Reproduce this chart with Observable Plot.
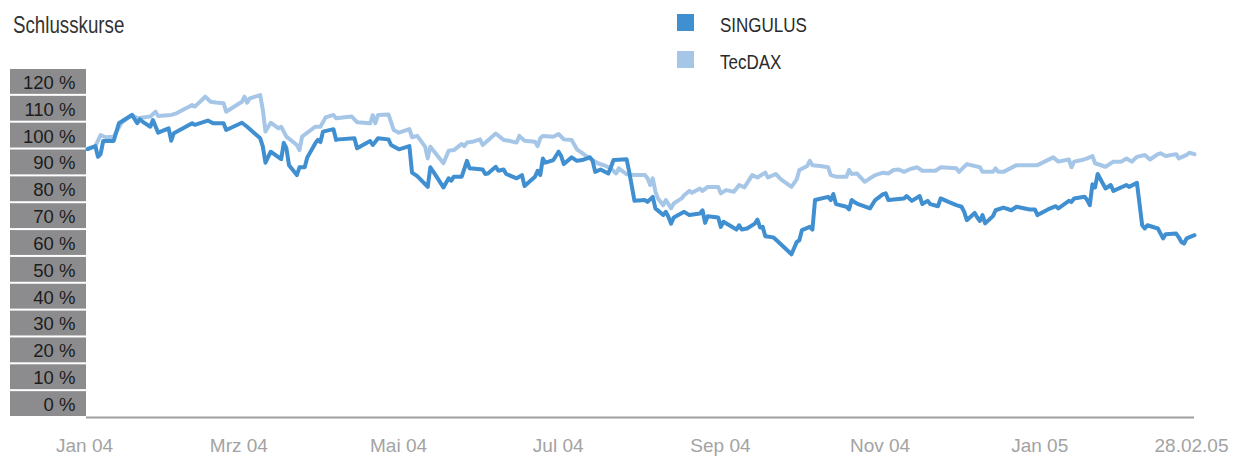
<!DOCTYPE html>
<html><head><meta charset="utf-8">
<script src="https://cdn.jsdelivr.net/npm/d3@7"></script>
<script src="https://cdn.jsdelivr.net/npm/@observablehq/plot@0.6"></script>
<style>
body{margin:0;background:#fff;}
#wrap{position:relative;width:1244px;height:460px;font-family:"Liberation Sans",Arial,sans-serif;}
.t{position:absolute;white-space:nowrap;transform-origin:0 0;line-height:1;}
.sq{position:absolute;}
#wrap svg{position:absolute;left:0;top:0;}
</style></head><body><div id="wrap"></div>
<script>
const title = "Schlusskurse";
const seriesNames = ["SINGULUS", "TecDAX"];
const seriesColors = ["#3f8fd1", "#a6c6e8"];

const singulusDates = ["2004-01-02","2004-01-05","2004-01-06","2004-01-07","2004-01-08","2004-01-12","2004-01-14","2004-01-19","2004-01-21","2004-01-22","2004-01-23","2004-01-26","2004-01-27","2004-01-29","2004-02-02","2004-02-03","2004-02-04","2004-02-11","2004-02-12","2004-02-17","2004-02-19","2004-02-23","2004-02-24","2004-03-01","2004-03-03","2004-03-08","2004-03-09","2004-03-10","2004-03-12","2004-03-16","2004-03-17","2004-03-18","2004-03-19","2004-03-22","2004-03-23","2004-03-25","2004-03-26","2004-03-29","2004-03-30","2004-03-31","2004-04-01","2004-04-05","2004-04-06","2004-04-07","2004-04-13","2004-04-14","2004-04-19","2004-04-20","2004-04-21","2004-04-22","2004-04-26","2004-04-27","2004-04-30","2004-05-04","2004-05-05","2004-05-07","2004-05-11","2004-05-12","2004-05-14","2004-05-17","2004-05-19","2004-05-20","2004-05-21","2004-05-24","2004-05-26","2004-05-27","2004-06-01","2004-06-02","2004-06-03","2004-06-06","2004-06-07","2004-06-09","2004-06-10","2004-06-14","2004-06-16","2004-06-17","2004-06-21","2004-06-22","2004-06-23","2004-06-24","2004-06-25","2004-06-28","2004-06-30","2004-07-01","2004-07-02","2004-07-05","2004-07-07","2004-07-09","2004-07-12","2004-07-13","2004-07-14","2004-07-16","2004-07-19","2004-07-20","2004-07-21","2004-07-23","2004-07-26","2004-07-27","2004-07-29","2004-08-02","2004-08-03","2004-08-05","2004-08-06","2004-08-09","2004-08-10","2004-08-11","2004-08-12","2004-08-13","2004-08-17","2004-08-19","2004-08-23","2004-08-24","2004-08-25","2004-08-26","2004-08-30","2004-08-31","2004-09-01","2004-09-06","2004-09-07","2004-09-08","2004-09-10","2004-09-13","2004-09-14","2004-09-15","2004-09-16","2004-09-17","2004-09-20","2004-09-21","2004-09-27","2004-09-29","2004-09-30","2004-10-01","2004-10-04","2004-10-05","2004-10-06","2004-10-11","2004-10-12","2004-10-13","2004-10-14","2004-10-18","2004-10-19","2004-10-20","2004-10-21","2004-10-22","2004-10-27","2004-10-29","2004-11-01","2004-11-02","2004-11-03","2004-11-09","2004-11-10","2004-11-12","2004-11-15","2004-11-16","2004-11-18","2004-11-19","2004-11-22","2004-11-23","2004-11-26","2004-11-29","2004-12-01","2004-12-02","2004-12-03","2004-12-06","2004-12-07","2004-12-08","2004-12-09","2004-12-10","2004-12-13","2004-12-14","2004-12-17","2004-12-20","2004-12-22","2004-12-27","2004-12-29","2004-12-30","2005-01-03","2005-01-06","2005-01-07","2005-01-11","2005-01-12","2005-01-13","2005-01-17","2005-01-18","2005-01-19","2005-01-20","2005-01-21","2005-01-22","2005-01-25","2005-01-27","2005-01-28","2005-02-02","2005-02-03","2005-02-06","2005-02-08","2005-02-09","2005-02-10","2005-02-14","2005-02-16","2005-02-17","2005-02-21","2005-02-22","2005-02-23","2005-02-24","2005-02-25","2005-02-28"];
const singulusValues = [100,101.1,97.1,98.1,103.0,103.0,109.6,112.7,109.6,111.1,110.2,108.3,110.8,106.1,107.7,103.1,105.9,109.6,109.0,110.6,109.6,109.6,107.1,109.8,108.3,104.0,100.9,94.9,99.0,96.2,102.3,100.3,94.0,90.3,93.2,93.2,96.9,102.1,103.4,102.6,106.5,107.4,103.4,103.6,104.0,100.3,103.0,101.5,102.7,104.0,103.6,101.5,99.9,101.1,91.2,89.9,85.9,93.2,90.3,85.7,89.1,88.2,89.7,89.7,95.6,92.8,92.4,90.7,90.9,93.4,91.9,92.4,90.7,89.1,90.3,86.2,89.7,91.9,90.3,96.5,94.9,95.9,99.0,97.4,94.4,96.9,95.6,95.9,96.9,95.6,91.5,92.4,90.9,93.2,95.9,96.0,96.2,91.5,80.7,81.0,80.3,82.2,77.9,75.4,76.6,74.7,72.2,74.5,76.6,75.4,76.0,77.2,72.5,75.0,74.5,71.0,72.9,70.0,71.6,70.0,70.4,72.2,73.7,70.8,71.0,67.5,67.1,66.3,60.8,65.4,66.0,69.8,71.0,70.0,81.0,82.2,81.0,83.2,79.5,78.5,77.5,81.0,80.3,79.7,77.9,81.0,83.2,83.5,81.0,81.6,82.5,80.7,82.5,79.5,80.7,79.5,78.7,81.6,80.3,79.1,78.5,76.6,73.5,76.2,74.5,73.2,75.4,72.3,75.0,77.2,78.2,77.2,78.5,77.5,77.5,75.4,77.5,78.7,77.9,80.7,80.3,81.6,82.2,81.0,79.1,86.9,85.7,90.7,85.3,86.6,84.4,86.6,85.9,87.4,71.6,70.4,71.6,70.4,66.7,68.3,68.5,67.1,65.4,64.8,66.7,67.9];

const tecdaxDates = ["2004-01-02","2004-01-05","2004-01-07","2004-01-09","2004-01-12","2004-01-15","2004-01-19","2004-01-21","2004-01-26","2004-01-28","2004-01-29","2004-02-03","2004-02-05","2004-02-11","2004-02-12","2004-02-16","2004-02-18","2004-02-20","2004-02-23","2004-02-24","2004-03-01","2004-03-02","2004-03-03","2004-03-04","2004-03-08","2004-03-09","2004-03-10","2004-03-12","2004-03-15","2004-03-16","2004-03-18","2004-03-22","2004-03-23","2004-03-24","2004-03-29","2004-03-31","2004-04-02","2004-04-05","2004-04-06","2004-04-12","2004-04-14","2004-04-19","2004-04-20","2004-04-21","2004-04-22","2004-04-26","2004-04-28","2004-04-30","2004-05-04","2004-05-05","2004-05-07","2004-05-10","2004-05-11","2004-05-12","2004-05-13","2004-05-17","2004-05-19","2004-05-21","2004-05-24","2004-05-25","2004-05-26","2004-05-28","2004-05-31","2004-06-01","2004-06-06","2004-06-09","2004-06-11","2004-06-14","2004-06-15","2004-06-17","2004-06-21","2004-06-22","2004-06-23","2004-06-24","2004-06-28","2004-06-30","2004-07-02","2004-07-05","2004-07-07","2004-07-10","2004-07-13","2004-07-15","2004-07-18","2004-07-20","2004-07-22","2004-07-23","2004-07-26","2004-07-29","2004-08-02","2004-08-03","2004-08-04","2004-08-05","2004-08-06","2004-08-07","2004-08-09","2004-08-10","2004-08-12","2004-08-13","2004-08-16","2004-08-17","2004-08-19","2004-08-20","2004-08-23","2004-08-24","2004-08-26","2004-08-30","2004-08-31","2004-09-02","2004-09-05","2004-09-07","2004-09-09","2004-09-12","2004-09-14","2004-09-17","2004-09-18","2004-09-21","2004-09-23","2004-09-27","2004-09-29","2004-09-30","2004-10-03","2004-10-04","2004-10-05","2004-10-08","2004-10-11","2004-10-12","2004-10-14","2004-10-18","2004-10-19","2004-10-20","2004-10-22","2004-10-25","2004-10-27","2004-10-29","2004-11-01","2004-11-03","2004-11-05","2004-11-07","2004-11-09","2004-11-11","2004-11-14","2004-11-16","2004-11-21","2004-11-23","2004-11-29","2004-11-30","2004-12-03","2004-12-08","2004-12-09","2004-12-13","2004-12-14","2004-12-15","2004-12-17","2004-12-22","2004-12-30","2005-01-05","2005-01-07","2005-01-11","2005-01-12","2005-01-13","2005-01-16","2005-01-18","2005-01-20","2005-01-21","2005-01-25","2005-01-28","2005-01-31","2005-02-02","2005-02-04","2005-02-06","2005-02-09","2005-02-11","2005-02-14","2005-02-15","2005-02-17","2005-02-21","2005-02-22","2005-02-25","2005-02-26","2005-02-28"];
const tecdaxValues = [100,101.1,105.2,104.4,104.6,109.8,112.7,111.5,112.1,113.9,112.3,112.7,113.3,116.4,115.8,119.5,117.6,117.3,117.1,113.9,117.6,119.5,117.3,118.9,120.1,114.6,106.5,109.8,107.7,108.3,104.6,101.5,99.6,104.6,108.3,108.3,111.8,112.7,111.5,112.1,110.0,109.6,112.6,109.6,112.7,112.9,107.1,106.1,107.4,104.4,104.9,100.9,96.5,100.9,99.6,94.7,99.4,99.6,101.9,101.1,102.4,102.7,103.6,101.5,105.8,103.4,103.1,102.4,104.9,103.1,102.7,101.1,104.0,104.9,104.6,105.6,103.6,103.4,99.9,97.8,95.9,94.7,93.7,92.8,90.9,92.8,90.6,90.3,90.3,89.1,86.6,89.1,84.1,81.6,79.1,81.0,77.9,79.7,81.6,82.8,84.4,83.7,85.3,84.4,85.9,85.9,83.5,84.7,84.1,86.6,85.7,90.3,89.4,91.2,89.4,90.7,88.7,85.9,88.7,92.2,93.7,95.6,94.0,93.7,93.2,90.3,89.7,89.7,92.2,90.7,90.9,87.8,89.1,90.3,91.2,90.9,92.2,92.4,91.5,92.4,93.2,91.9,91.9,93.2,92.8,91.5,94.4,93.2,91.5,91.5,92.8,91.5,91.5,94.0,94.0,96.9,95.3,96.1,93.2,95.3,95.9,96.5,97.4,94.7,93.4,95.3,95.3,96.5,95.3,97.1,97.8,96.1,98.1,98.4,97.4,98.1,96.5,97.8,98.6,98.1];

const yTicks = [0,10,20,30,40,50,60,70,80,90,100,110,120];
const xTickDates = ["2004-01-02","2004-03-01","2004-05-01","2004-07-01","2004-09-01","2004-11-01","2005-01-01","2005-02-28"];
const xTickLabels = ["Jan 04","Mrz 04","Mai 04","Jul 04","Sep 04","Nov 04","Jan 05","28.02.05"];

const parse = d3.utcParse("%Y-%m-%d");
const sing = singulusDates.map((d, i) => ({date: parse(d), value: singulusValues[i]}));
const tec = tecdaxDates.map((d, i) => ({date: parse(d), value: tecdaxValues[i]}));
const xTicks = xTickDates.map((d, i) => ({date: parse(d), label: xTickLabels[i]}));

const chart = Plot.plot({
  width: 1244, height: 460,
  marginLeft: 87, marginRight: 50, marginTop: 68, marginBottom: 43,
  style: {fontFamily: "'Liberation Sans', Arial, sans-serif", background: "transparent", overflow: "visible"},
  x: {type: "utc", domain: [parse("2004-01-02"), parse("2005-02-28")], axis: null},
  y: {domain: [0, 130], axis: null},
  marks: [
    Plot.rect(yTicks, {y1: d => d, y2: d => d + 10, fill: "#8c8c8e", insetLeft: -77, insetRight: 1108, insetTop: 1, insetBottom: 1}),
    Plot.text(yTicks, {y: d => d + 5, text: d => `${d} %`, frameAnchor: "left", dx: -12, dy: 1, textAnchor: "end", fontSize: 18.5, fill: "#1c1c1c"}),
    Plot.ruleY([0], {stroke: "#a0a0a0", strokeWidth: 2, insetLeft: -1}),
    Plot.line(tec, {x: "date", y: "value", stroke: seriesColors[1], strokeWidth: 4}),
    Plot.line(sing, {x: "date", y: "value", stroke: seriesColors[0], strokeWidth: 4}),
    Plot.text(xTicks, {x: "date", text: "label", frameAnchor: "bottom", dy: 34, dx: -3, fontSize: 19, fill: "#a3a3a3"})
  ]
});
const wrap = document.getElementById("wrap");
wrap.appendChild(chart);

function addText(txt, left, top, size, sx, color) {
  const d = document.createElement("div");
  d.className = "t";
  d.textContent = txt;
  d.style.left = left + "px"; d.style.top = top + "px";
  d.style.fontSize = size + "px"; d.style.color = color;
  d.style.transform = `scaleX(${sx})`;
  wrap.appendChild(d);
}
function addSquare(left, top, color) {
  const d = document.createElement("div");
  d.className = "sq";
  d.style.left = left + "px"; d.style.top = top + "px";
  d.style.width = "17px"; d.style.height = "17px";
  d.style.background = color;
  wrap.appendChild(d);
}
addText(title, 13, 13, 24, 0.78, "#333");
addSquare(677, 14, seriesColors[0]);
addText(seriesNames[0], 720, 14, 21, 0.81, "#2a2a2a");
addSquare(677, 51, seriesColors[1]);
addText(seriesNames[1], 720, 50.5, 21, 0.81, "#2a2a2a");
</script></body></html>
